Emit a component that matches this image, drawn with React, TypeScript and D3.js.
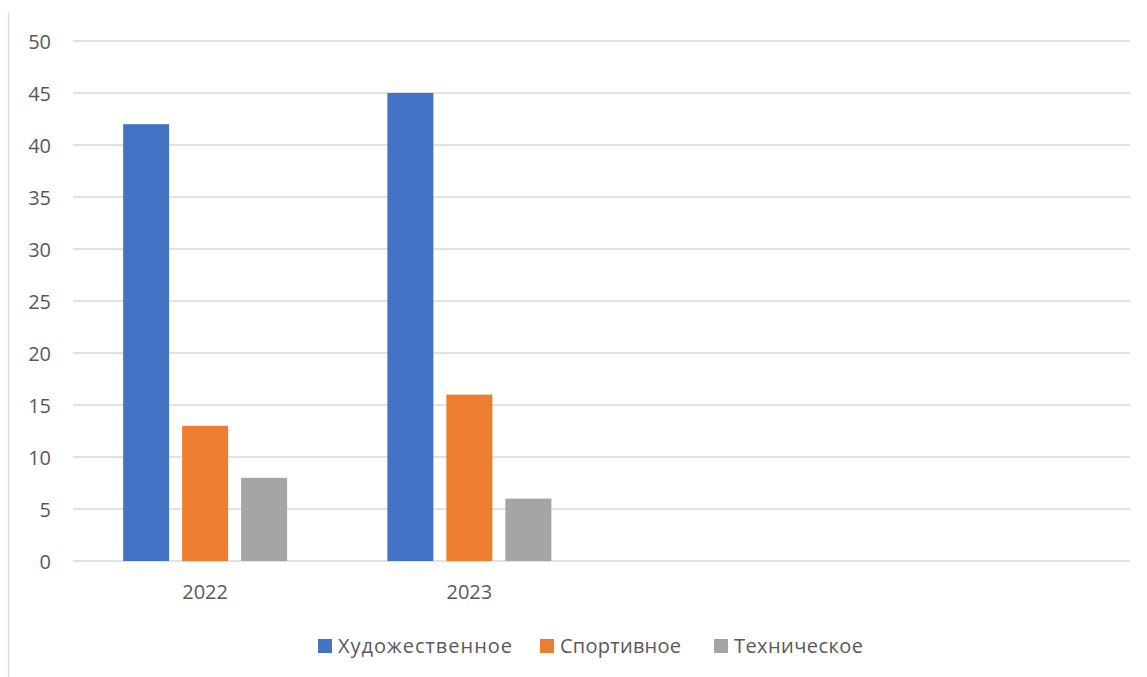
import React from "react";
import * as d3 from "d3";

const categories = ["2022", "2023", "", ""];
const seriesNames = ["Художественное", "Спортивное", "Техническое"];
const seriesColors = ["#4472C4", "#ED7D31", "#A5A5A5"];
const values = [
  [42, 13, 8],
  [45, 16, 6],
  [null, null, null],
  [null, null, null],
];
const yTicks = [0, 5, 10, 15, 20, 25, 30, 35, 40, 45, 50];

const W = 1147;
const H = 677;
const FONT = "'Open Sans', 'Noto Sans', sans-serif";

const legendX = [318, 540, 714];
const legendTextLen = [174, 121, 129];

const App = () => {
  const groupPad = 1 - 164 / 264.25;
  const x0 = d3
    .scaleBand<number>()
    .domain(categories.map((_, i) => i))
    .range([73, 1130])
    .paddingInner(groupPad)
    .paddingOuter(groupPad / 2);
  const x1 = d3
    .scaleBand<number>()
    .domain(seriesNames.map((_, i) => i))
    .range([0, x0.bandwidth()])
    .paddingInner(13 / 59);
  const y = d3.scaleLinear().domain([0, 50]).range([561, 41]);

  return (
    <svg
      width={W}
      height={H}
      style={{ position: "absolute", left: 0, top: 0, background: "#fff" }}
    >
      <line x1={8.5} x2={8.5} y1={12} y2={H} stroke="#d9d9d9" strokeWidth={1.3} />

      {yTicks.map((t) => (
        <g key={t}>
          <line
            x1={73}
            x2={1130}
            y1={y(t)}
            y2={y(t)}
            stroke="#d9d9d9"
            strokeWidth={1.3}
          />
          <text
            x={51}
            y={y(t)}
            textAnchor="end"
            dominantBaseline="central"
            fontFamily={FONT}
            fontSize={20}
            fill="#595959"
          >
            {t}
          </text>
        </g>
      ))}

      {values.map((row, ci) => (
        <g key={ci} transform={`translate(${x0(ci)},0)`}>
          {row.map((v, si) =>
            v == null ? null : (
              <rect
                key={si}
                x={x1(si)}
                y={y(v)}
                width={x1.bandwidth()}
                height={y(0) - y(v)}
                fill={seriesColors[si]}
              />
            )
          )}
        </g>
      ))}

      {categories.map((c, ci) => (
        <text
          key={ci}
          x={(x0(ci) as number) + x0.bandwidth() / 2}
          y={599}
          textAnchor="middle"
          fontFamily={FONT}
          fontSize={20}
          fill="#595959"
        >
          {c}
        </text>
      ))}

      {seriesNames.map((name, si) => (
        <g key={name}>
          <rect
            x={legendX[si]}
            y={639}
            width={14}
            height={14}
            fill={seriesColors[si]}
          />
          <text
            x={legendX[si] + 20}
            y={653}
            fontFamily={FONT}
            fontSize={20}
            fill="#595959"
            textLength={legendTextLen[si]}
            lengthAdjust="spacing"
          >
            {name}
          </text>
        </g>
      ))}
    </svg>
  );
};

export default App;
